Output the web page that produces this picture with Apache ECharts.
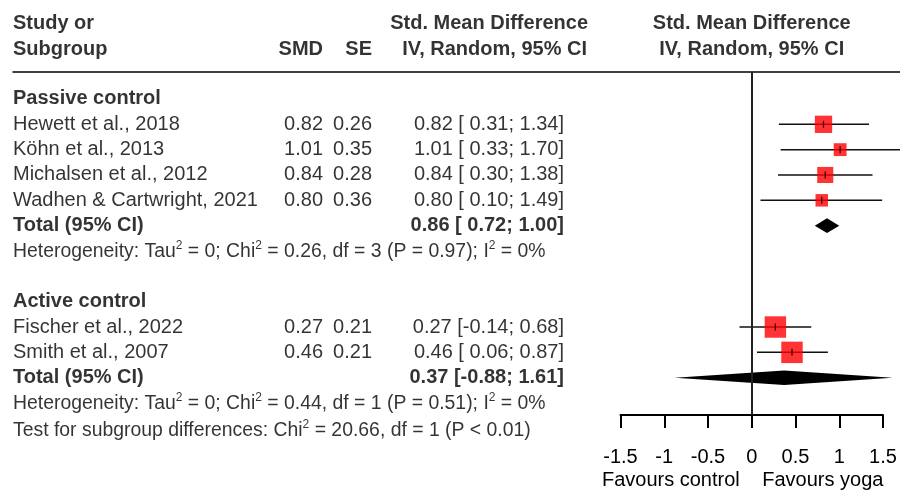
<!DOCTYPE html>
<html><head><meta charset="utf-8">
<script src="https://cdn.jsdelivr.net/npm/echarts@6/dist/echarts.min.js"></script>
<style>html,body{margin:0;padding:0;background:#fff}#c{width:900px;height:491px}</style>
</head><body><div id="c"></div>
<script>
// ---------- DATA ----------
const groups = ['Passive control', 'Active control'];
const studies = ['Hewett et al., 2018', 'Köhn et al., 2013', 'Michalsen et al., 2012', 'Wadhen & Cartwright, 2021', 'Fischer et al., 2022', 'Smith et al., 2007'];
const studyGroup = [0, 0, 0, 0, 1, 1];
const smd = [0.82, 1.01, 0.84, 0.80, 0.27, 0.46];
const se = [0.26, 0.35, 0.28, 0.36, 0.21, 0.21];
const ciLower = [0.31, 0.33, 0.30, 0.10, -0.14, 0.06];
const ciUpper = [1.34, 1.70, 1.38, 1.49, 0.68, 0.87];
const totalSmd = [0.86, 0.37];
const totalLower = [0.72, -0.88];
const totalUpper = [1.00, 1.61];
const hetTau2 = ['0', '0'];
const hetChi2 = ['0.26', '0.44'];
const hetDf = ['3', '1'];
const hetP = ['0.97', '0.51'];
const hetI2 = ['0%', '0%'];
const testChi2 = '20.66';
const testDf = '1';
const testP = '< 0.01';
const xTicks = [-1.5, -1, -0.5, 0, 0.5, 1, 1.5];
const xTickLabels = ['-1.5', '-1', '-0.5', '0', '0.5', '1', '1.5'];
const favourLabels = ['Favours control', 'Favours yoga'];
const headerLeft = ['Study or', 'Subgroup'];
const headerCols = ['SMD', 'SE'];
const headerEffect = ['Std. Mean Difference', 'IV, Random, 95% CI'];
const totalLabel = 'Total (95% CI)';

// ---------- LAYOUT ----------
const W = 900, H = 491;
const FONT = '"Liberation Sans", Arial, sans-serif';
const ROW0 = 124.3, STEP = 25.34;          // pixel of row 0, row spacing
const PLOT_TOP = 72, PLOT_BOTTOM = 415;
const PLOT_LEFT = 620.5, PLOT_W = 262.5;
const XMIN = -1.5, XMAX = 1.5;
const pxToRow = p => (p - ROW0) / STEP;
const zeroPx = PLOT_LEFT + (0 - XMIN) / (XMAX - XMIN) * PLOT_W;
const SIZE_K = 4.5;
const HDR1 = pxToRow(23.7), HDR2 = pxToRow(49);
const COL_NAME = 13, COL_SMD = 323, COL_SE = 372, COL_CI = 564, COL_HDR = 588;

// rows
const groupRow = [], studyRow = [], totalRow = [], hetRow = [];
let r = -1;
groups.forEach((g, gi) => {
  groupRow[gi] = r; r++;
  studies.forEach((s, i) => { if (studyGroup[i] === gi) { studyRow[i] = r; r++; } });
  totalRow[gi] = r; r++;
  hetRow[gi] = r; r++;
  r++;
});
const testRow = hetRow[groups.length - 1] + 1;

const f2 = v => v.toFixed(2);
const ciText = (e, lo, hi) => f2(e) + ' [' + (lo >= 0 ? ' ' : '') + f2(lo) + '; ' + f2(hi) + ']';

// text items
const leftItems = [], rightItems = [], centerItems = [];
leftItems.push({x: COL_NAME, r: HDR1, text: headerLeft[0], bold: true});
leftItems.push({x: COL_NAME, r: HDR2, text: headerLeft[1], bold: true});
rightItems.push({x: COL_SMD, r: HDR2, text: headerCols[0], bold: true});
rightItems.push({x: COL_SE, r: HDR2, text: headerCols[1], bold: true});
rightItems.push({x: COL_HDR, r: HDR1, text: headerEffect[0], bold: true});
rightItems.push({x: COL_HDR - 1, r: HDR2, text: headerEffect[1], bold: true});
centerItems.push({x: zeroPx, r: HDR1, text: headerEffect[0], bold: true});
centerItems.push({x: zeroPx, r: HDR2, text: headerEffect[1], bold: true});
groups.forEach((g, gi) => {
  leftItems.push({x: COL_NAME, r: groupRow[gi], text: g, bold: true});
  leftItems.push({x: COL_NAME, r: totalRow[gi], text: totalLabel, bold: true});
  rightItems.push({x: COL_CI, r: totalRow[gi], text: ciText(totalSmd[gi], totalLower[gi], totalUpper[gi]), bold: true});
  leftItems.push({x: COL_NAME, r: hetRow[gi] + 0.04, small: true,
    text: 'Heterogeneity: Tau{sup|2} = ' + hetTau2[gi] + '; Chi{sup|2} = ' + hetChi2[gi] + ', df = ' + hetDf[gi] +
      ' (P = ' + hetP[gi] + '); I{sup|2} = ' + hetI2[gi]});
});
studies.forEach((s, i) => {
  leftItems.push({x: COL_NAME, r: studyRow[i], text: s});
  rightItems.push({x: COL_SMD, r: studyRow[i], text: f2(smd[i])});
  rightItems.push({x: COL_SE, r: studyRow[i], text: f2(se[i])});
  rightItems.push({x: COL_CI, r: studyRow[i], text: ciText(smd[i], ciLower[i], ciUpper[i])});
});
leftItems.push({x: COL_NAME, r: testRow + 0.08, small: true,
  text: 'Test for subgroup differences: Chi{sup|2} = ' + testChi2 + ', df = ' + testDf + ' (P ' + (testP[0] === '<' ? '' : '= ') + testP + ')'});

function textSeries(items, align) {
  return {
    type: 'scatter', xAxisIndex: 1, yAxisIndex: 1, silent: true, symbolSize: 1,
    itemStyle: {color: 'rgba(0,0,0,0)'}, z: 10, animation: false,
    data: items.map(it => ({
      value: [it.x, it.r],
      label: it.small ? {fontSize: 19.4, lineHeight: 24, fontWeight: 'normal'}
                      : {fontSize: 20, lineHeight: 22, fontWeight: it.bold ? 'bold' : 'normal'}
    })),
    label: {
      show: true, position: 'inside', align: align, verticalAlign: 'middle',
      color: '#000', fontFamily: FONT, fontSize: 20,
      formatter: p => items[p.dataIndex].text,
      rich: {sup: {fontSize: 12, lineHeight: 12, verticalAlign: 'top', color: '#000', fontFamily: FONT}}
    },
    emphasis: {disabled: true}
  };
}

const option = {
  backgroundColor: '#fff',
  animation: false,
  grid: [
    {left: PLOT_LEFT, width: PLOT_W, top: PLOT_TOP, height: PLOT_BOTTOM - PLOT_TOP, containLabel: false},
    {left: 0, width: W, top: 0, height: H, containLabel: false}
  ],
  xAxis: [
    {gridIndex: 0, type: 'value', min: XMIN, max: XMAX, interval: 0.5, position: 'bottom',
      axisLine: {show: true, onZero: false, lineStyle: {color: '#000', width: 2}},
      axisTick: {show: true, inside: false, length: 13, lineStyle: {color: '#000', width: 2}},
      axisLabel: {show: true, margin: 32, fontSize: 20, color: '#000', fontFamily: FONT,
        formatter: v => { const k = xTicks.findIndex(t => Math.abs(t - v) < 1e-9); return k >= 0 ? xTickLabels[k] : ''; }},
      splitLine: {show: false}},
    {gridIndex: 1, type: 'value', min: 0, max: W, show: false}
  ],
  yAxis: [
    {gridIndex: 0, type: 'value', inverse: true, min: pxToRow(PLOT_TOP), max: pxToRow(PLOT_BOTTOM), show: false},
    {gridIndex: 1, type: 'value', inverse: true, min: pxToRow(0), max: pxToRow(H), show: false}
  ],
  graphic: [
    {type: 'line', shape: {x1: 12.5, y1: PLOT_TOP, x2: W, y2: PLOT_TOP}, style: {stroke: '#000', lineWidth: 1.5}, silent: true},
    {type: 'text', x: zeroPx - 12, y: 480, silent: true,
      style: {text: favourLabels[0], fontSize: 20, fontFamily: FONT, fill: '#000', align: 'right', verticalAlign: 'middle'}},
    {type: 'text', x: zeroPx + 10.5, y: 480, silent: true,
      style: {text: favourLabels[1], fontSize: 20, fontFamily: FONT, fill: '#000', align: 'left', verticalAlign: 'middle'}}
  ],
  series: [
    // CI whiskers
    {type: 'custom', xAxisIndex: 0, yAxisIndex: 0, silent: true, clip: false, z: 2,
      encode: {x: [0, 1], y: 2},
      data: studies.map((s, i) => [ciLower[i], ciUpper[i], studyRow[i]]),
      renderItem: (params, api) => {
        const a = api.coord([api.value(0), api.value(2)]);
        const b = api.coord([api.value(1), api.value(2)]);
        return {type: 'line', shape: {x1: a[0], y1: a[1], x2: b[0], y2: b[1]}, style: {stroke: '#111', lineWidth: 1.5}};
      }},
    // study squares
    {type: 'scatter', xAxisIndex: 0, yAxisIndex: 0, silent: true, z: 3, symbol: 'rect',
      symbolSize: (val, p) => SIZE_K / se[p.dataIndex],
      itemStyle: {color: '#ff0000'},
      data: studies.map((s, i) => [smd[i], studyRow[i]]),
      markLine: {silent: true, symbol: 'none', label: {show: false}, animation: false,
        lineStyle: {color: '#222', width: 2, type: 'solid'}, data: [{xAxis: 0}]}},
    // point ticks
    {type: 'scatter', xAxisIndex: 0, yAxisIndex: 0, silent: true, z: 4, symbol: 'rect',
      symbolSize: [1.3, 7], itemStyle: {color: '#000'},
      data: studies.map((s, i) => [smd[i], studyRow[i]])},
    // pooled diamonds
    {type: 'custom', xAxisIndex: 0, yAxisIndex: 0, silent: true, clip: false, z: 3,
      encode: {x: [0, 1, 2], y: 3},
      data: groups.map((g, gi) => [totalLower[gi], totalSmd[gi], totalUpper[gi], totalRow[gi]]),
      renderItem: (params, api) => {
        const lo = api.coord([api.value(0), api.value(3)]);
        const mid = api.coord([api.value(1), api.value(3)]);
        const hi = api.coord([api.value(2), api.value(3)]);
        const h = 7.3;
        return {type: 'polygon', shape: {points: [[lo[0], lo[1]], [mid[0], mid[1] - h], [hi[0], hi[1]], [mid[0], mid[1] + h]]},
          style: {fill: '#000'}};
      }},
    textSeries(leftItems, 'left'),
    textSeries(rightItems, 'right'),
    textSeries(centerItems, 'center')
  ]
};
const chart = echarts.init(document.getElementById('c'), null, {renderer: 'canvas'});
chart.setOption(option);
</script>
</body></html>
